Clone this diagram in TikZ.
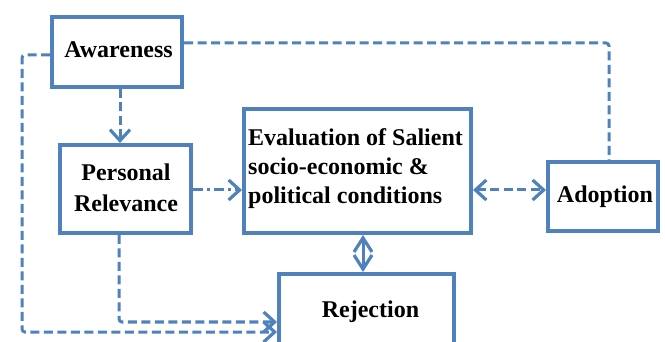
\documentclass[tikz,border=0pt]{standalone}
\usepackage{fontspec}
\setmainfont{Liberation Serif}[BoldFont={Liberation Serif Bold}]
\newfontfamily\tfont{Liberation Serif}
\usetikzlibrary{arrows.meta}
\definecolor{bl}{HTML}{4F81BD}
\begin{document}
\begin{tikzpicture}[x=1pt,y=-1pt,
 box/.style={draw=bl, line width=4pt, fill=white, inner sep=0pt},
 txt/.style={font=\tfont\bfseries\fontsize{24}{29}\selectfont, inner sep=0pt, text=black},
 conn/.style={draw=bl, line width=3pt, rounded corners=3pt},
 dsh/.style={conn, dash pattern=on 9pt off 4.5pt},
 dshdot/.style={conn, dash pattern=on 10pt off 4pt on 3pt off 4pt},
 tip/.style={-{Straight Barb[length=11pt,width=20pt,line width=3.2pt]}},
 tiptwo/.style={{Straight Barb[length=11pt,width=20pt,line width=3.2pt]}-{Straight Barb[length=11pt,width=20pt,line width=3.2pt]}},
 tipsmall/.style={{Straight Barb[length=14pt,width=18pt,line width=3.2pt]}-{Straight Barb[length=14pt,width=18pt,line width=3.2pt]}},
 ]
\useasboundingbox (0,0) rectangle (665,342);
\clip (0,0) rectangle (665,342);

% boxes
\node[box, minimum width=130pt, minimum height=70pt] (aw) at (117,52) {};
\node[box, minimum width=131pt, minimum height=88pt] (pr) at (125.5,189) {};
\node[box, minimum width=227pt, minimum height=124pt] (ev) at (357.5,171) {};
\node[box, minimum width=175pt, minimum height=100pt, anchor=north] (rej) at (366.5,272) {};
\node[box, minimum width=110pt, minimum height=69pt] (ad) at (603,196.5) {};

% texts
\node[txt, anchor=base] (awt) at (118.5,58) {Awareness};
\node[txt, align=center, font=\tfont\bfseries\fontsize{24}{31}\selectfont] (prt) at (126,188) {Personal\\Relevance};
\node[txt, align=left, anchor=west] (evt) at (248,169) {Evaluation of Salient\\socio-economic \&\\political conditions};
\node[txt, anchor=base] (rejt) at (370.5,317) {Rejection};
\node[txt, anchor=base] (adt) at (605,203) {Adoption};

% helper coordinates
\coordinate (xa) at (120,0);
\coordinate (ya) at (0,43);
\coordinate (xad) at (609,0);
\coordinate (yl) at (0,55);
\coordinate (xl) at (22,0);
\coordinate (ytwo) at (0,332);
\coordinate (xp) at (119,0);
\coordinate (yone) at (0,322);
\coordinate (ym) at (0,190);
\coordinate (xe) at (363,0);

% connectors
\draw[dsh, tip] (aw.south -| xa) -- (pr.north -| xa);
\draw[dsh] (aw.east |- ya) -- (xad |- ya) -- (ad.north -| xad);
\draw[dsh, tip] (aw.west |- yl) -| (xl |- ytwo) -- (rej.west |- ytwo);
\draw[dsh, tip] (pr.south -| xp) |- (rej.west |- yone);
\draw[dshdot, tip] (pr.east |- ym) -- (ev.west |- ym);
\draw[dsh, tiptwo] (ev.east |- ym) -- (ad.west |- ym);
\draw[conn, tipsmall] (ev.south -| xe) -- (rej.north -| xe);
\end{tikzpicture}
\end{document}
